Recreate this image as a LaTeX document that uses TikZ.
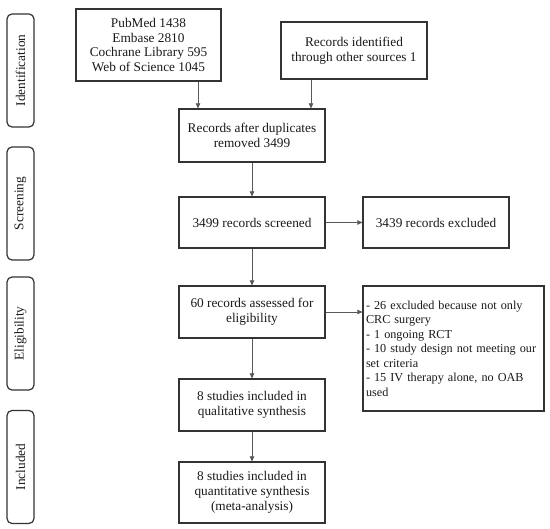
\documentclass[tikz,border=0pt]{standalone}
\usepackage{fontspec}
\setmainfont{Liberation Serif}
\usetikzlibrary{arrows.meta}
\begin{document}
\begin{tikzpicture}[x=1pt,y=-1pt,
  box/.style={draw=black!80, line width=1.2pt, inner sep=2pt, align=center,
    font=\fontsize{13.3}{14.7}\selectfont, text=black!90},
  phase/.style={draw=black!80, line width=1.2pt, rounded corners=5pt, rotate=90,
    minimum width=113pt, minimum height=27pt, inner sep=0pt,
    font=\fontsize{13.3}{15}\selectfont, text=black!90},
  arr/.style={draw=black!65, line width=0.7pt, -{Triangle[length=5pt,width=4.5pt]}}]
\useasboundingbox (0,0) rectangle (550,529);

% phase labels
\node[phase] (ph1) at (20.5,70.5) {Identification};
\node[phase] (ph2) at (20.5,203.5) {Screening};
\node[phase] (ph3) at (20.5,333.5) {Eligibility};
\node[phase] (ph4) at (20.5,467) {Included};

% boxes
\node[box, minimum width=145pt, minimum height=72pt] (pub) at (148.5,45)
  {PubMed 1438\\Embase 2810\\Cochrane Library 595\\Web of Science 1045};
\node[box, minimum width=146pt, minimum height=57pt] (oth) at (354,50.5)
  {Records identified\\through other sources 1};
\node[box, minimum width=146pt, minimum height=53pt] (dup) at (252,135.5)
  {Records after duplicates\\removed 3499};
\node[box, minimum width=146pt, minimum height=51pt] (scr) at (252,222.5)
  {3499 records screened};
\node[box, minimum width=146pt, minimum height=51pt] (exc) at (436,222.5)
  {3439 records excluded};
\node[box, minimum width=146pt, minimum height=52pt] (eli) at (252,312)
  {60 records assessed for\\eligibility};
\node[box, minimum width=181pt, minimum height=125pt, align=left, text width=175pt,
  font=\fontsize{12.2}{14.5}\selectfont] (exc2) at (453.5,348.5)
  {- 26 excluded because not only\\CRC surgery\\- 1 ongoing RCT\\- 10 study design not meeting our\\set criteria\\- 15 IV therapy alone, no OAB\\used};
\node[box, minimum width=146pt, minimum height=52pt] (qual) at (252,405)
  {8 studies included in\\qualitative synthesis};
\node[box, minimum width=146pt, minimum height=61pt] (quan) at (252,492.5)
  {8 studies included in\\quantitative synthesis\\(meta-analysis)};

% connectors
\draw[arr] ([xshift=49.5pt]pub.south) -- ([xshift=49.5pt]pub.south |- dup.north);
\draw[arr] ([xshift=-43pt]oth.south) -- ([xshift=-43pt]oth.south |- dup.north);
\draw[arr] (dup) -- (scr);
\draw[arr] (scr) -- (exc);
\draw[arr] (scr) -- (eli);
\draw[arr] (eli.east) -- (eli.east -| exc2.west);
\draw[arr] (eli) -- (qual);
\draw[arr] (qual) -- (quan);
\end{tikzpicture}
\end{document}
